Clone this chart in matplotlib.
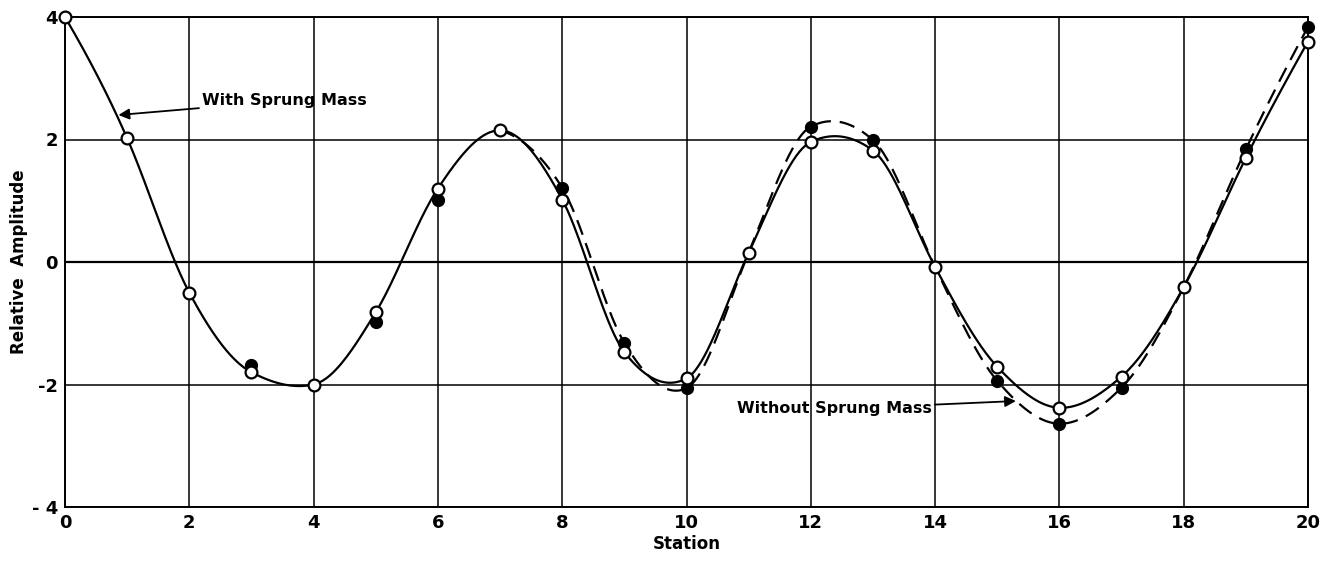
"""Relative amplitude along the stations, with and without sprung mass."""

import numpy as np
import matplotlib
matplotlib.use("Agg")
import matplotlib.pyplot as plt

# stations and measured amplitudes
stations = list(range(21))
with_sprung = [4.0, 2.02, -0.5, -1.8, -2.0, -0.82, 1.2, 2.15, 1.02, -1.47, -1.9,
               0.15, 1.96, 1.82, -0.08, -1.71, -2.38, -1.87, -0.41, 1.7, 3.6]

# stations where the filled points were plotted
without_stations = [3, 5, 6, 8, 9, 10, 12, 13, 15, 16, 17, 19, 20]
without_sprung = [-1.68, -0.98, 1.02, 1.21, -1.32, -2.06, 2.21, 1.99, -1.94, -2.64,
                  -2.05, 1.84, 3.84]

# knots of the dashed curve (7 to 20)
dashed_stations = [7, 8, 9, 10, 11, 12, 13, 14, 15, 16, 17, 18, 19, 20]
dashed_values = [2.15, 1.21, -1.32, -2.06, 0.15, 2.21, 1.99, -0.08, -1.94, -2.64,
                 -2.05, -0.41, 1.84, 3.84]

x_ticks = list(range(0, 21, 2))
y_ticks = [-4, -2, 0, 2, 4]
y_ticklabels = ["- 4", "-2", "0", "2", "4"]


def hermite(x, y, d, xs):
    idx = np.clip(np.searchsorted(x, xs) - 1, 0, len(x) - 2)
    hh = x[idx + 1] - x[idx]
    t = (xs - x[idx]) / hh
    h00 = 2 * t ** 3 - 3 * t ** 2 + 1
    h10 = t ** 3 - 2 * t ** 2 + t
    h01 = -2 * t ** 3 + 3 * t ** 2
    h11 = t ** 3 - t ** 2
    return h00 * y[idx] + h10 * hh * d[idx] + h01 * y[idx + 1] + h11 * hh * d[idx + 1]


def spline_slopes(x, y):
    """Slopes of a natural cubic spline at the knots."""
    k = len(x)
    h = np.diff(x)
    A = np.zeros((k, k))
    r = np.zeros(k)
    A[0, 0] = A[-1, -1] = 1.0
    for i in range(1, k - 1):
        A[i, i - 1] = h[i - 1]
        A[i, i] = 2 * (h[i - 1] + h[i])
        A[i, i + 1] = h[i]
        r[i] = 6 * ((y[i + 1] - y[i]) / h[i] - (y[i] - y[i - 1]) / h[i - 1])
    m = np.linalg.solve(A, r)
    d = np.empty(k)
    d[:-1] = np.diff(y) / h - h * (2 * m[:-1] + m[1:]) / 6
    d[-1] = (y[-1] - y[-2]) / h[-1] + h[-1] * (m[-2] + 2 * m[-1]) / 6
    return d


def pchip_slopes(x, y):
    """Fritsch-Carlson slopes (no overshoot)."""
    h = np.diff(x)
    delta = np.diff(y) / h
    d = np.zeros_like(y)
    for i in range(1, len(x) - 1):
        if delta[i - 1] * delta[i] > 0:
            w1 = 2 * h[i] + h[i - 1]
            w2 = h[i] + 2 * h[i - 1]
            d[i] = (w1 + w2) / (w1 / delta[i - 1] + w2 / delta[i])
    d[0] = ((2 * h[0] + h[1]) * delta[0] - h[0] * delta[1]) / (h[0] + h[1])
    d[-1] = ((2 * h[-1] + h[-2]) * delta[-1] - h[-1] * delta[-2]) / (h[-1] + h[-2])
    return d


def smooth_curve(x, y, n=800):
    x = np.asarray(x, float)
    y = np.asarray(y, float)
    d = 0.5 * (spline_slopes(x, y) + pchip_slopes(x, y))
    xs = np.linspace(x[0], x[-1], n)
    return xs, hermite(x, y, d, xs)


plt.rcParams["font.family"] = "DejaVu Sans"
plt.rcParams["font.weight"] = "bold"

fig = plt.figure(figsize=(13.29, 5.62), dpi=100)
ax = fig.add_axes([65 / 1329, 1 - 507 / 562, (1308 - 65) / 1329, (507 - 17) / 562])

ax.set_xlim(0, 20)
ax.set_ylim(-4, 4)
ax.set_xticks(x_ticks)
ax.set_yticks(y_ticks)
ax.set_yticklabels(y_ticklabels)
ax.tick_params(length=0, labelsize=13, pad=5)
ax.grid(True, color="black", linewidth=1.1)
ax.axhline(0, color="black", linewidth=1.6, zorder=1)
for side in ax.spines.values():
    side.set_linewidth(1.4)

# smooth curves
xs, ys = smooth_curve(stations, with_sprung)
ax.plot(xs, ys, color="black", linewidth=1.6, zorder=3)
xd, yd = smooth_curve(dashed_stations, dashed_values)
ax.plot(xd, yd, color="black", linewidth=1.6, linestyle=(0, (7, 4)), zorder=3)

# measured points
ax.plot(without_stations, without_sprung, "o", color="black", markersize=8.5,
        zorder=4, clip_on=False)
ax.plot(stations, with_sprung, "o", markerfacecolor="white",
        markeredgecolor="black", markeredgewidth=1.6, markersize=8.5,
        zorder=5, clip_on=False)

arrow = dict(arrowstyle="-|>", color="black", lw=1.3, mutation_scale=16,
             shrinkA=0, shrinkB=0)
ax.annotate("With Sprung Mass", xy=(0.86, 2.4), xytext=(2.2, 2.63),
            fontsize=11.5, fontweight="bold", ha="left", va="center",
            arrowprops=arrow, zorder=6)
ax.annotate("Without Sprung Mass", xy=(15.3, -2.27), xytext=(13.95, -2.4),
            fontsize=11.5, fontweight="bold", ha="right", va="center",
            arrowprops=arrow, zorder=6)

ax.set_xlabel("Station", fontsize=12, fontweight="bold", labelpad=2)
ax.set_ylabel("Relative  Amplitude", fontsize=12, fontweight="bold", labelpad=3)

fig.savefig("out.png", dpi=100)
